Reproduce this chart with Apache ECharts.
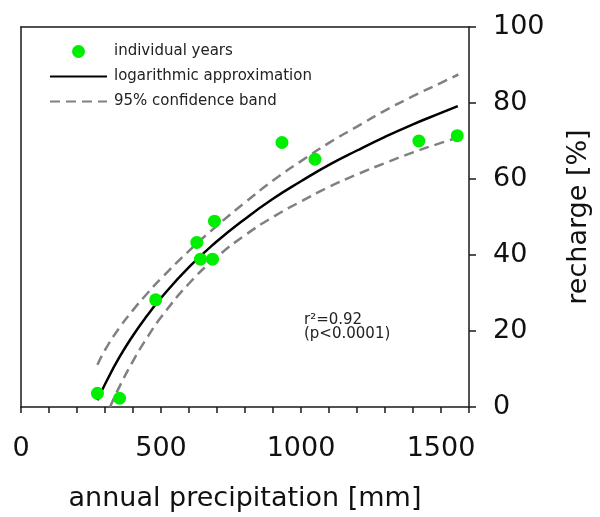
<!DOCTYPE html>
<html>
<head>
<meta charset="utf-8">
<script src="https://cdn.jsdelivr.net/npm/echarts@6/dist/echarts.min.js"></script>
<style>
html,body{margin:0;padding:0;background:#fff;}
#c{width:600px;height:517px;}
</style>
</head>
<body>
<div id="c"></div>
<script>
// individual years
var yearPrecip = [273, 352, 481, 628, 641, 684, 691, 932, 1050, 1421, 1558];
var yearRecharge = [3.6, 2.3, 28.2, 43.3, 38.9, 38.9, 48.9, 69.6, 65.2, 70.0, 71.4];
// logarithmic approximation
var fitPrecip = [273, 300, 350, 400, 450, 500, 600, 700, 800, 900, 1000, 1100, 1200, 1300, 1400, 1500, 1560];
var fitRecharge = [1.8, 6.0, 12.9, 18.8, 24.0, 28.7, 36.8, 43.6, 49.5, 54.8, 59.4, 63.7, 67.5, 71.1, 74.4, 77.4, 79.2];
// 95% confidence band
var upperPrecip = [273, 300, 350, 400, 450, 500, 600, 700, 800, 900, 1000, 1100, 1200, 1300, 1400, 1500, 1562];
var upperRecharge = [11.1, 15.0, 20.7, 25.5, 29.8, 33.8, 41.1, 47.7, 53.8, 59.6, 64.7, 69.5, 73.8, 78.0, 81.8, 85.3, 87.5];
var lowerPrecip = [318, 350, 400, 450, 500, 600, 700, 800, 900, 1000, 1100, 1200, 1300, 1400, 1500, 1560];
var lowerRecharge = [0.0, 5.1, 12.1, 18.2, 23.6, 32.5, 39.5, 45.2, 50.0, 54.1, 57.9, 61.2, 64.2, 67.0, 69.5, 70.9];
// axes
var xTickLabels = [0, 500, 1000, 1500];
var yTickLabels = [0, 20, 40, 60, 80, 100];
var statsLines = ['r\u00B2=0.92', '(p<0.0001)'];

function zip(a, b) { return a.map(function (v, i) { return [v, b[i]]; }); }

var FONT = 'DejaVu Sans';
var chart = echarts.init(document.getElementById('c'), null, {renderer: 'canvas'});
var dashStyle = {color: '#808080', width: 2.5, type: [10, 6]};

chart.setOption({
  animation: false,
  backgroundColor: '#ffffff',
  textStyle: {fontFamily: FONT},
  grid: {left: 21, top: 27, width: 448, height: 380, containLabel: false},
  legend: {
    orient: 'vertical',
    left: 44, top: 39,
    itemWidth: 57, itemHeight: 13, itemGap: 10,
    textStyle: {fontFamily: FONT, fontSize: 15, color: '#222', lineHeight: 15, padding: [0, 0, 0, 2]},
    data: [
      {name: 'individual years'},
      {name: 'logarithmic approximation', itemStyle: {opacity: 0}},
      {name: '95% confidence band', itemStyle: {opacity: 0}}
    ]
  },
  xAxis: [{
    type: 'value', position: 'bottom', min: 0, max: 1600, interval: 100,
    axisLine: {show: true, onZero: false, lineStyle: {color: '#1a1a1a', width: 1.5}},
    axisTick: {show: true, inside: false, length: 6, lineStyle: {color: '#1a1a1a', width: 1.5}},
    splitLine: {show: false},
    axisLabel: {
      fontFamily: FONT, fontSize: 27, color: '#111', margin: 28,
      formatter: function (v) { return xTickLabels.indexOf(v) >= 0 ? String(v) : ''; }
    },
    name: 'annual precipitation [mm]', nameLocation: 'middle', nameGap: 78,
    nameTextStyle: {fontFamily: FONT, fontSize: 27, color: '#111'}
  }, {
    type: 'value', position: 'top', min: 0, max: 1600,
    axisLine: {show: true, onZero: false, lineStyle: {color: '#1a1a1a', width: 1.5}},
    axisTick: {show: false}, axisLabel: {show: false}, splitLine: {show: false}
  }],
  yAxis: [{
    type: 'value', position: 'right', min: 0, max: 100, interval: 20,
    axisLine: {show: true, onZero: false, lineStyle: {color: '#1a1a1a', width: 1.5}},
    axisTick: {show: true, inside: false, length: 7, lineStyle: {color: '#1a1a1a', width: 1.5}},
    splitLine: {show: false},
    axisLabel: {
      fontFamily: FONT, fontSize: 27, color: '#111', margin: 24,
      formatter: function (v) { return yTickLabels.indexOf(v) >= 0 ? String(v) : ''; }
    },
    name: 'recharge [%]', nameLocation: 'middle', nameGap: 96, nameRotate: 90,
    nameTextStyle: {fontFamily: FONT, fontSize: 27, color: '#111'}
  }, {
    type: 'value', position: 'left', min: 0, max: 100,
    axisLine: {show: true, onZero: false, lineStyle: {color: '#1a1a1a', width: 1.5}},
    axisTick: {show: false}, axisLabel: {show: false}, splitLine: {show: false}
  }],
  series: [{
    name: '95% confidence band', type: 'line', data: zip(upperPrecip, upperRecharge),
    smooth: true, symbol: 'none', lineStyle: dashStyle, itemStyle: {color: '#808080'}, z: 2
  }, {
    name: '95% confidence band', type: 'line', data: zip(lowerPrecip, lowerRecharge),
    smooth: true, symbol: 'none', lineStyle: dashStyle, itemStyle: {color: '#808080'}, z: 2
  }, {
    name: 'logarithmic approximation', type: 'line', data: zip(fitPrecip, fitRecharge),
    smooth: true, symbol: 'none', lineStyle: {color: '#000', width: 2.5}, itemStyle: {color: '#000'}, z: 3
  }, {
    name: 'individual years', type: 'scatter', data: zip(yearPrecip, yearRecharge),
    symbol: 'circle', symbolSize: 13, itemStyle: {color: '#00ee00', opacity: 1}, z: 5
  }],
  graphic: [{
    type: 'text', left: 304, top: 313,
    style: {text: statsLines.join('\n'), fontFamily: FONT, fontSize: 15, lineHeight: 14, fill: '#222'}
  }]
});
</script>
</body>
</html>
